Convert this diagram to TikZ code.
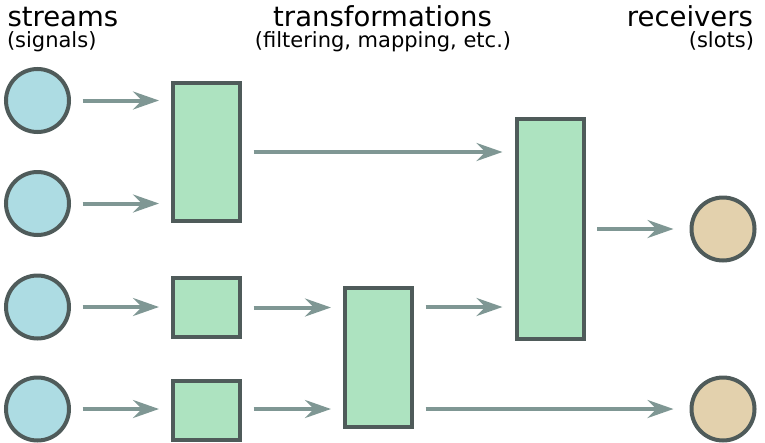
\documentclass[tikz,border=0pt]{standalone}
\usepackage{fontspec}
\setmainfont{DejaVu Sans}
\usetikzlibrary{arrows.meta}
\definecolor{streamfill}{HTML}{ADDCE3}
\definecolor{transfill}{HTML}{ADE3C0}
\definecolor{slotfill}{HTML}{E3D1AD}
\definecolor{outline}{HTML}{4F5B5A}
\definecolor{flowgrey}{HTML}{7F9794}
\def\boxwidth{67pt}

\begin{document}
\begin{tikzpicture}[x=1pt,y=-1pt,->,>={Stealth[length=26pt,width=18pt,inset=9pt]},
    shorten >=12pt,shorten <=11.5pt,draw=flowgrey,line width=4pt]
    \tikzstyle{port}=[circle,draw=outline,minimum size=63pt,inner sep=0pt]
    \tikzstyle{stream}=[port,fill=streamfill];
    \tikzstyle{receiver}=[port,fill=slotfill];
    \tikzstyle{transform}=[rectangle,draw=outline,fill=transfill,minimum width=\boxwidth,inner sep=0pt];
    \tikzstyle{title}=[inner sep=0pt,font=\fontsize{27.5}{33}\selectfont]
    \tikzstyle{subtitle}=[inner sep=0pt,font=\fontsize{21}{25}\selectfont]

    \useasboundingbox (0,0) rectangle (765,442);

    % Draw the streams on the left
    \foreach \name / \y in {1/100.5,2/203.5,3/307,4/409}
        \node[stream] (S-\name) at (37.5,\y) {};

    % Draw the transformation boxes
    \node[transform,minimum height=138pt] (A) at (206.5,152) {};
    \node[transform,minimum height=59pt] (B) at (206.5,307.5) {};
    \node[transform,minimum height=59pt] (C) at (206.5,410.5) {};
    \node[transform,minimum height=139pt] (D) at (378.5,357.5) {};
    \node[transform,minimum height=220pt] (E) at (550,229) {};

    % Draw the receivers on the right
    \node[receiver] (R-1) at (723,229) {};
    \node[receiver] (R-2) at (723,409) {};

    % Streams into the first column of boxes
    \path (S-1) edge (S-1 -| A.west);
    \path (S-2) edge (S-2 -| A.west);
    \path (S-3) edge (S-3 -| B.west);
    \path (S-4) edge (S-4 -| C.west);

    % Boxes into boxes
    \path (A) edge (A -| E.west);
    \path (B) edge (B -| D.west);
    \path (S-4 -| C.east) edge (S-4 -| D.west);
    \path (S-3 -| D.east) edge (S-3 -| E.west);

    % Boxes into the receivers
    \path (E) edge[shorten >=16pt] (R-1);
    \path (S-4 -| D.east) edge[shorten >=16pt] (R-2);

    % Annotate the columns
    \node[title,anchor=base west] (st) at (5.5,26.5) {streams};
    \node[subtitle,anchor=base west] at (5,47.5) {(signals)};
    \node[title,anchor=base] (tr) at (382.5,26.5) {transformations};
    \node[subtitle,anchor=base] at (383,47.5) {(filtering, mapping, etc.)};
    \node[title,anchor=base east] (rc) at (755,26.5) {receivers};
    \node[subtitle,anchor=base east] at (756,47.5) {(slots)};
\end{tikzpicture}
\end{document}
